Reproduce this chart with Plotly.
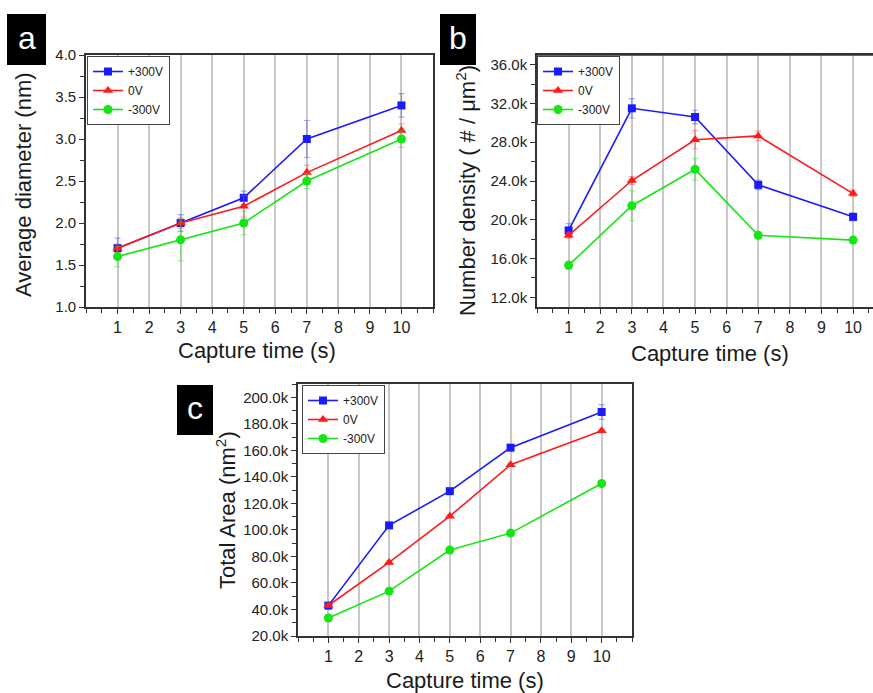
import plotly.graph_objects as go

# ---- data ----
capture_time = [1, 3, 5, 7, 10]
series_names = ["+300V", "0V", "-300V"]

# (a) average diameter, nm
diam_p300 = [1.70, 2.00, 2.30, 3.00, 3.40]
diam_p300_err = [0.12, 0.10, 0.08, 0.22, 0.14]
diam_0v = [1.70, 2.00, 2.20, 2.60, 3.10]
diam_0v_err = [0.05, 0.06, 0.13, 0.09, 0.08]
diam_m300 = [1.60, 1.80, 2.00, 2.50, 3.00]
diam_m300_err = [0.12, 0.25, 0.14, 0.09, 0.10]

# (b) number density, #/um^2
dens_p300 = [18900, 31500, 30600, 23600, 20300]
dens_p300_err = [700, 1000, 700, 500, 400]
dens_0v = [18400, 24050, 28250, 28650, 22700]
dens_0v_err = [300, 400, 950, 500, 300]
dens_m300 = [15300, 21450, 25200, 18400, 17900]
dens_m300_err = [400, 1550, 1100, 300, 200]

# (c) total area, nm^2
area_p300 = [42900, 103400, 129200, 162000, 188900]
area_p300_err = [1000, 1200, 1200, 2000, 5500]
area_0v = [43000, 75500, 110300, 149100, 174800]
area_0v_err = [800, 1000, 1000, 1000, 1000]
area_m300 = [33600, 53800, 84800, 97600, 135000]
area_m300_err = [800, 800, 800, 800, 800]

# tick labels
x_ticks = [1, 2, 3, 4, 5, 6, 7, 8, 9, 10]
diam_ticks = [1.0, 1.5, 2.0, 2.5, 3.0, 3.5, 4.0]
dens_ticks = [12000, 16000, 20000, 24000, 28000, 32000, 36000]
area_ticks = [20000, 40000, 60000, 80000, 100000, 120000, 140000,
              160000, 180000, 200000]

# ---- styling ----
FONT = "Arial, Liberation Sans, sans-serif"
W, H = 873, 693
colors = ["#1a1aff", "#ff1a1a", "#14e614"]
err_colors = ["rgba(60,60,255,0.45)", "rgba(255,60,60,0.45)", "rgba(40,220,40,0.45)"]
symbols = ["square", "triangle-up", "circle"]
msizes = [8, 9, 9]


def px_x(p):
    return p / W


def px_y(p):
    return 1 - p / H


fig = go.Figure()

panels = [
    ("x", "y", "legend", [diam_p300, diam_0v, diam_m300],
     [diam_p300_err, diam_0v_err, diam_m300_err]),
    ("x2", "y2", "legend2", [dens_p300, dens_0v, dens_m300],
     [dens_p300_err, dens_0v_err, dens_m300_err]),
    ("x3", "y3", "legend3", [area_p300, area_0v, area_m300],
     [area_p300_err, area_0v_err, area_m300_err]),
]

for xa, ya, leg, ys, errs in panels:
    for i in range(3):
        fig.add_trace(go.Scatter(
            x=capture_time, y=ys[i], name=series_names[i],
            mode="lines+markers", xaxis=xa, yaxis=ya, legend=leg,
            line=dict(color=colors[i], width=1.6),
            marker=dict(symbol=symbols[i], size=msizes[i], color=colors[i]),
            error_y=dict(type="data", array=errs[i], visible=True,
                         color=err_colors[i], thickness=1.2, width=3),
        ))

axis_line = "#333333"


def xaxis_cfg(domain, anchor, rng, mirror=True):
    return dict(
        domain=domain, anchor=anchor, range=rng,
        tickmode="array", tickvals=x_ticks, ticktext=[str(v) for v in x_ticks],
        ticks="outside", ticklen=5, tickwidth=1.2, tickcolor=axis_line,
        showgrid=True, gridcolor="#c8c8c8", gridwidth=1.5,
        showline=True, linecolor=axis_line, linewidth=1.6, mirror=mirror,
        zeroline=False, automargin=False,
        minor=dict(tickmode="linear", tick0=0, dtick=0.5, ticks="outside",
                   ticklen=4, tickwidth=1.2, tickcolor=axis_line, showgrid=False),
        tickfont=dict(family=FONT, size=16, color="#222222"),
    )


def yaxis_cfg(domain, anchor, rng, vals, text, minor_dtick, mirror=True):
    return dict(
        domain=domain, anchor=anchor, range=rng,
        tickmode="array", tickvals=vals, ticktext=text,
        ticks="outside", ticklen=5, tickwidth=1.2, tickcolor=axis_line,
        showgrid=False,
        showline=True, linecolor=axis_line, linewidth=1.6, mirror=mirror,
        zeroline=False, automargin=False,
        minor=dict(tickmode="linear", tick0=0, dtick=minor_dtick, ticks="outside",
                   ticklen=4, tickwidth=1.2, tickcolor=axis_line, showgrid=False),
        tickfont=dict(family=FONT, size=15, color="#222222"),
    )


def k_label(v):
    return f"{v / 1000:.1f}k"


xa_dom = [px_x(86), px_x(433)]
xb_dom = [px_x(537), 1.0]
xc_dom = [px_x(298), px_x(632)]
yab_dom = [px_y(307), px_y(55)]
yc_dom = [px_y(636), px_y(384)]

legend_common = dict(
    bgcolor="white", bordercolor="#444444", borderwidth=1,
    font=dict(family=FONT, size=12, color="#222222"),
    xanchor="left", yanchor="top", tracegroupgap=0, itemwidth=30,
)

fig.update_layout(
    width=W, height=H,
    margin=dict(l=0, r=0, t=0, b=0, pad=0, autoexpand=False),
    paper_bgcolor="white", plot_bgcolor="white",
    font=dict(family=FONT, color="#222222"),
    xaxis=xaxis_cfg(xa_dom, "y", [0, 11]),
    yaxis=yaxis_cfg(yab_dom, "x", [1.0, 4.0], diam_ticks,
                    [f"{v:.1f}" for v in diam_ticks], 0.25),
    xaxis2=xaxis_cfg(xb_dom, "y2", [0, 10.63]),
    yaxis2=yaxis_cfg(yab_dom, "x2", [11000, 37000], dens_ticks,
                     [k_label(v) for v in dens_ticks], 2000, mirror=False),
    xaxis3=xaxis_cfg(xc_dom, "y3", [0, 11]),
    yaxis3=yaxis_cfg(yc_dom, "x3", [20000, 210000], area_ticks,
                     [k_label(v) for v in area_ticks], 10000),
    legend=dict(x=px_x(87), y=px_y(56), **legend_common),
    legend2=dict(x=px_x(537), y=px_y(56), **legend_common),
    legend3=dict(x=px_x(302), y=px_y(385), **legend_common),
    showlegend=True,
)

# top frame line for panel b (its right edge runs off the canvas)
fig.add_shape(type="line", xref="paper", yref="paper",
              x0=xb_dom[0], x1=1.0, y0=yab_dom[1], y1=yab_dom[1],
              line=dict(color=axis_line, width=1.6))

# panel tags
for label, (x0, y0, x1, y1) in {"a": (7, 14, 46, 65),
                                "b": (440, 14, 476, 65),
                                "c": (177, 385, 213, 435)}.items():
    fig.add_shape(type="rect", xref="paper", yref="paper",
                  x0=px_x(x0), x1=px_x(x1), y0=px_y(y1), y1=px_y(y0),
                  fillcolor="black", line=dict(width=0))
    fig.add_annotation(x=px_x((x0 + x1) / 2), y=px_y((y0 + y1) / 2 - 2),
                       xref="paper", yref="paper", text=label, showarrow=False,
                       xanchor="center", yanchor="middle",
                       font=dict(family=FONT, size=32, color="white"))

# axis titles
titles = [
    ("Average diameter (nm)", 23, 185, -90),
    ("Capture time (s)", 257, 350, 0),
    ("Number density ( # / μm<sup>2</sup>)", 466, 191, -90),
    ("Capture time (s)", 710, 353, 0),
    ("Total Area (nm<sup>2</sup>)", 226, 510, -90),
    ("Capture time (s)", 465, 680, 0),
]
for text, cx, cy, ang in titles:
    fig.add_annotation(x=px_x(cx), y=px_y(cy), xref="paper", yref="paper",
                       text=text, showarrow=False, textangle=ang,
                       xanchor="center", yanchor="middle",
                       font=dict(family=FONT, size=22, color="#1a1a1a"))

fig.write_html("out.html")
